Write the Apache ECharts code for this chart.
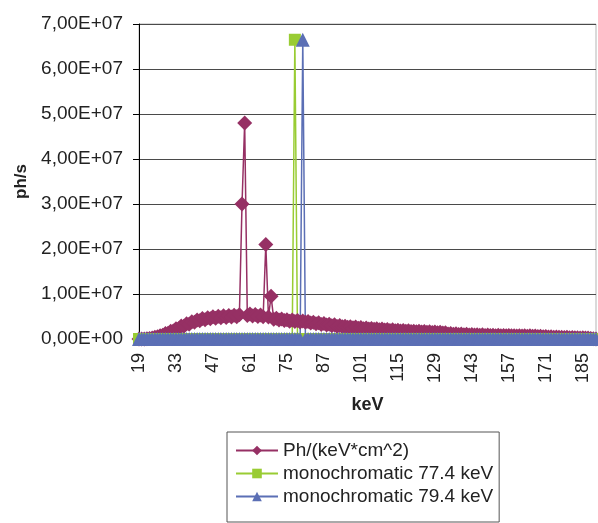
<!DOCTYPE html>
<html>
<head>
<meta charset="utf-8">
<script src="https://cdn.jsdelivr.net/npm/echarts@6/dist/echarts.min.js"></script>
<style>
  html, body { margin: 0; padding: 0; background: #fff; }
  #Chart { width: 598px; height: 523px; }
</style>
</head>
<body>
<div id="Chart"></div>
<script>
// keV categories (Excel category axis, 77.4 and 79.4 inserted)
const categories = [
  '19','20','21','22','23','24','25','26','27','28','29','30','31','32','33','34','35','36','37','38',
  '39','40','41','42','43','44','45','46','47','48','49','50','51','52','53','54','55','56','57','58',
  '59','60','61','62','63','64','65','66','67','68','69','70','71','72','73','74','75','76','77','77.4',
  '78','79','79.4','80','81','82','83','84','85','86','87','88','89','90','91','92','93','94','95','96',
  '97','98','99','100','101','102','103','104','105','106','107','108','109','110','111','112','113','114','115','116',
  '117','118','119','120','121','122','123','124','125','126','127','128','129','130','131','132','133','134','135','136',
  '137','138','139','140','141','142','143','144','145','146','147','148','149','150','151','152','153','154','155','156',
  '157','158','159','160','161','162','163','164','165','166','167','168','169','170','171','172','173','174','175','176',
  '177','178','179','180','181','182','183','184','185','186','187','188','189','190'
];

// Ph/(keV*cm^2), in units of 1E+06 ph/s
const spectrum = [
  0, 0, 0.02, 0.05, 0.12, 0.2, 0.38, 0.5, 0.75, 0.85, 1.2, 1.3, 1.75, 1.8, 2.3, 2.3, 2.9, 2.85, 3.4, 3.3,
  3.85, 3.7, 4.2, 4.05, 4.55, 4.3, 4.75, 4.5, 4.95, 4.6, 5.05, 4.7, 5.15, 4.8, 5.25, 4.9, 5.3, 4.95, 5.4, 30.0,
  48.0, 5.2, 5.55, 5.1, 5.45, 5.0, 5.35, 4.95, 21.0, 4.9, 9.5, 4.4, 4.6, 4.2, 4.45, 4.1, 4.3, 3.95, 4.2, 3.9,
  4.1, 3.8, 4.0, 3.7, 3.9, 3.55, 3.75, 3.4, 3.6, 3.25, 3.45, 3.1, 3.3, 2.95, 3.15, 2.8, 3.0, 2.7, 2.85, 2.6,
  2.75, 2.5, 2.65, 2.4, 2.55, 2.3, 2.45, 2.2, 2.35, 2.15, 2.3, 2.05, 2.2, 2.0, 2.1, 1.9, 2.05, 1.85, 1.95, 1.8,
  1.9, 1.7, 1.85, 1.65, 1.75, 1.6, 1.7, 1.55, 1.65, 1.5, 1.6, 1.45, 1.55, 1.4, 1.5, 1.35, 1.4, 1.1, 1.2, 1.05,
  1.15, 1.0, 1.1, 0.95, 1.05, 0.9, 1.0, 0.9, 0.95, 0.85, 0.95, 0.8, 0.9, 0.8, 0.85, 0.75, 0.85, 0.75, 0.8, 0.7,
  0.8, 0.7, 0.75, 0.65, 0.75, 0.65, 0.7, 0.6, 0.7, 0.6, 0.65, 0.55, 0.6, 0.5, 0.55, 0.45, 0.5, 0.4, 0.45, 0.4,
  0.4, 0.35, 0.4, 0.3, 0.35, 0.3, 0.3, 0.25, 0.3, 0.2, 0.2, 0.1, 0.05, 0
];

// monochromatic 77.4 keV
const mono774 = [
  0, 0, 0, 0, 0, 0, 0, 0, 0, 0, 0, 0, 0, 0, 0, 0, 0, 0, 0, 0,
  0, 0, 0, 0, 0, 0, 0, 0, 0, 0, 0, 0, 0, 0, 0, 0, 0, 0, 0, 0,
  0, 0, 0, 0, 0, 0, 0, 0, 0, 0, 0, 0, 0, 0, 0, 0, 0, 0, 0, 66.5,
  0, 0, 0, 0, 0, 0, 0, 0, 0, 0, 0, 0, 0, 0, 0, 0, 0, 0, 0, 0,
  0, 0, 0, 0, 0, 0, 0, 0, 0, 0, 0, 0, 0, 0, 0, 0, 0, 0, 0, 0,
  0, 0, 0, 0, 0, 0, 0, 0, 0, 0, 0, 0, 0, 0, 0, 0, 0, 0, 0, 0,
  0, 0, 0, 0, 0, 0, 0, 0, 0, 0, 0, 0, 0, 0, 0, 0, 0, 0, 0, 0,
  0, 0, 0, 0, 0, 0, 0, 0, 0, 0, 0, 0, 0, 0, 0, 0, 0, 0, 0, 0,
  0, 0, 0, 0, 0, 0, 0, 0, 0, 0, 0, 0, 0, 0
];

// monochromatic 79.4 keV
const mono794 = [
  0, 0, 0, 0, 0, 0, 0, 0, 0, 0, 0, 0, 0, 0, 0, 0, 0, 0, 0, 0,
  0, 0, 0, 0, 0, 0, 0, 0, 0, 0, 0, 0, 0, 0, 0, 0, 0, 0, 0, 0,
  0, 0, 0, 0, 0, 0, 0, 0, 0, 0, 0, 0, 0, 0, 0, 0, 0, 0, 0, 0,
  0, 0, 66.5, 0, 0, 0, 0, 0, 0, 0, 0, 0, 0, 0, 0, 0, 0, 0, 0, 0,
  0, 0, 0, 0, 0, 0, 0, 0, 0, 0, 0, 0, 0, 0, 0, 0, 0, 0, 0, 0,
  0, 0, 0, 0, 0, 0, 0, 0, 0, 0, 0, 0, 0, 0, 0, 0, 0, 0, 0, 0,
  0, 0, 0, 0, 0, 0, 0, 0, 0, 0, 0, 0, 0, 0, 0, 0, 0, 0, 0, 0,
  0, 0, 0, 0, 0, 0, 0, 0, 0, 0, 0, 0, 0, 0, 0, 0, 0, 0, 0, 0,
  0, 0, 0, 0, 0, 0, 0, 0, 0, 0, 0, 0, 0, 0
];

const yTickLabels = ['0,00E+00', '1,00E+07', '2,00E+07', '3,00E+07', '4,00E+07', '5,00E+07', '6,00E+07', '7,00E+07'];
const seriesNames = ['Ph/(keV*cm^2)', 'monochromatic 77.4 keV', 'monochromatic 79.4 keV'];

const fontFamily = 'Liberation Sans, Arial, sans-serif';
const textColor = '#222';
const colors = ['#963064', '#99cc33', '#5b6fb5'];

const option = {
    backgroundColor: '#fff',
    animation: false,
    color: colors,
    grid: {
        left: 139,
        right: 2,
        top: 24,
        bottom: 184,
        show: true,
        borderColor: '#b5b5b5',
        borderWidth: 1
    },
    legend: {
        orient: 'vertical',
        left: 227,
        top: 432,
        padding: [9, 6, 16, 8],
        itemWidth: 42,
        itemHeight: 12,
        itemGap: 4,
        borderColor: '#555',
        borderWidth: 1,
        textStyle: {
            color: textColor,
            fontSize: 19,
            fontFamily: fontFamily
        },
        data: seriesNames
    },
    xAxis: {
        type: 'category',
        boundaryGap: false,
        data: categories,
        name: 'keV',
        nameLocation: 'middle',
        nameGap: 57,
        nameTextStyle: {
            color: textColor,
            fontSize: 18,
            fontWeight: 'bold',
            fontFamily: fontFamily
        },
        axisLine: { lineStyle: { color: '#000', width: 1 } },
        axisTick: { show: false },
        axisLabel: {
            interval: 13,
            rotate: 90,
            margin: 14,
            color: textColor,
            fontSize: 18,
            fontFamily: fontFamily
        },
        splitLine: { show: false }
    },
    yAxis: {
        type: 'value',
        min: 0,
        max: 70,
        interval: 10,
        name: 'ph/s',
        nameLocation: 'middle',
        nameGap: 106,
        nameTextStyle: {
            color: textColor,
            fontSize: 17,
            fontWeight: 'bold',
            fontFamily: fontFamily
        },
        axisLine: { show: true, lineStyle: { color: '#000', width: 1 } },
        axisTick: { show: true, length: 6, lineStyle: { color: '#000' } },
        axisLabel: {
            margin: 16,
            color: textColor,
            fontSize: 19,
            fontFamily: fontFamily,
            formatter: function (v) { return yTickLabels[Math.round(v / 10)]; }
        },
        splitLine: { show: true, lineStyle: { color: '#4a4a4a', width: 1 } }
    },
    series: [
        {
            name: seriesNames[0],
            type: 'line',
            data: spectrum,
            symbol: 'diamond',
            symbolSize: 15,
            showAllSymbol: true,
            clip: false,
            lineStyle: { color: colors[0], width: 1.5 },
            itemStyle: { color: colors[0] }
        },
        {
            name: seriesNames[1],
            type: 'line',
            data: mono774,
            symbol: 'rect',
            symbolSize: 12,
            showAllSymbol: true,
            clip: false,
            lineStyle: { color: colors[1], width: 1.5 },
            itemStyle: { color: colors[1] }
        },
        {
            name: seriesNames[2],
            type: 'line',
            data: mono794,
            symbol: 'triangle',
            symbolSize: 14,
            showAllSymbol: true,
            clip: false,
            lineStyle: { color: colors[2], width: 1.5 },
            itemStyle: { color: colors[2] }
        }
    ]
};

const myChart = echarts.init(document.getElementById('Chart'));
myChart.setOption(option);
</script>
</body>
</html>
